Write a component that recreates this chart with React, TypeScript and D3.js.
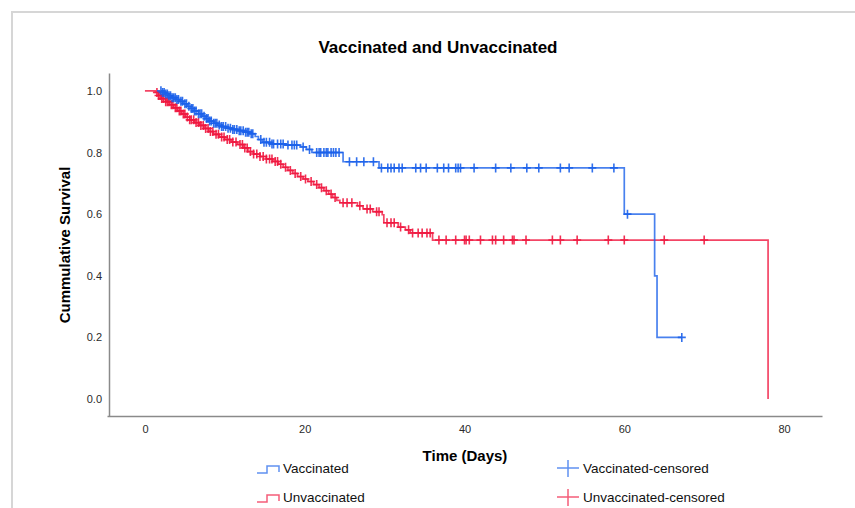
import React, { Component } from "react";
import * as d3 from "d3";

// Kaplan-Meier steps: [time in days, survival after the event]
const vaccinatedStart: [number, number] = [2.0, 1.0];
const vaccinatedEvents: [number, number][] = [
  [2.2, 0.995], [2.6, 0.99], [3.0, 0.984], [3.4, 0.978], [3.9, 0.972], [4.3, 0.966],
  [4.8, 0.958], [5.3, 0.95], [5.7, 0.943], [6.2, 0.935], [6.7, 0.926], [7.2, 0.918],
  [7.6, 0.91], [8.1, 0.902], [8.6, 0.895], [9.1, 0.889], [9.6, 0.884], [10.2, 0.879],
  [10.9, 0.875], [11.6, 0.871], [12.4, 0.866], [13.2, 0.861], [13.8, 0.852], [14.2, 0.842],
  [14.7, 0.833], [15.8, 0.828], [17.6, 0.824], [19.5, 0.818], [20.2, 0.81], [20.9, 0.8],
  [24.8, 0.77], [29.3, 0.75], [60.0, 0.6], [63.8, 0.4], [64.1, 0.2],
];
const vaccinatedEnd = 67.2;
const vaccinatedCensored = [
  2.0, 2.2, 2.4, 2.6, 2.8, 3.0, 3.2, 3.4, 3.6, 3.8, 4.0, 4.2, 4.5, 4.7, 5.0, 5.2, 5.5, 5.8,
  6.0, 6.2, 6.4, 6.7, 6.9, 7.1, 7.4, 7.7, 7.9, 8.1, 8.3, 8.6, 8.8, 9.0, 9.3, 9.6, 9.8, 10.1,
  10.4, 10.7, 11.0, 11.2, 11.5, 11.8, 12.0, 12.3, 12.6, 12.8, 13.0, 13.3, 13.5, 14.5, 14.9,
  15.2, 15.6, 15.9, 16.1, 16.6, 17.0, 17.3, 17.9, 18.4, 18.7, 19.0, 19.8, 20.6, 21.5, 21.8,
  22.0, 22.4, 22.7, 22.9, 23.3, 23.6, 23.9, 24.3, 25.6, 26.5, 27.4, 28.6,
  29.6, 30.4, 30.8, 31.2, 31.8, 32.2, 33.9, 34.5, 35.2, 36.6, 37.4, 38.0, 38.9, 39.2,
  39.5, 41.2, 43.9, 45.8, 47.8, 49.3, 52.0, 53.1, 56.0, 58.7, 60.4, 67.2,
];

const unvaccinatedStart: [number, number] = [0, 1.0];
const unvaccinatedEvents: [number, number][] = [
  [1.3, 0.995], [1.7, 0.985], [2.1, 0.975], [2.6, 0.965], [3.1, 0.955], [3.6, 0.945],
  [4.1, 0.935], [4.6, 0.925], [5.1, 0.915], [5.6, 0.906], [6.2, 0.897], [6.8, 0.888],
  [7.4, 0.878], [8.0, 0.868], [8.6, 0.859], [9.3, 0.85], [10.0, 0.842], [10.8, 0.834],
  [11.6, 0.826], [12.3, 0.815], [12.9, 0.803], [13.6, 0.795], [14.4, 0.787], [15.2, 0.779],
  [16.0, 0.771], [16.7, 0.762], [17.3, 0.752], [17.9, 0.742], [18.5, 0.732], [19.1, 0.722],
  [19.8, 0.714], [20.4, 0.706], [21.1, 0.696], [21.8, 0.686], [22.4, 0.676], [23.0, 0.665],
  [23.5, 0.654], [24.0, 0.645], [24.4, 0.637], [26.6, 0.627], [27.3, 0.617], [28.5, 0.608],
  [29.7, 0.598], [29.9, 0.572], [31.7, 0.558], [32.6, 0.549], [33.2, 0.539], [36.0, 0.516],
  [78.0, 0.0],
];
const unvaccinatedCensored = [
  1.5, 1.7, 1.9, 2.1, 2.3, 2.6, 2.8, 3.0, 3.3, 3.5, 3.8, 4.0, 4.3, 4.5, 4.8, 5.0, 5.3, 5.6,
  5.8, 6.1, 6.4, 6.7, 7.0, 7.3, 7.6, 7.9, 8.2, 8.5, 8.9, 9.2, 9.6, 9.9, 10.3, 10.6, 11.0,
  11.4, 11.9, 12.2, 12.5, 12.8, 13.2, 13.6, 14.0, 14.4, 14.8, 15.2, 15.6, 15.9, 16.3, 16.6,
  17.0, 17.6, 18.2, 18.8, 19.5, 20.1, 20.8, 21.5, 22.1, 22.7, 23.3, 23.8, 24.8, 25.3, 25.9,
  26.9, 27.8, 28.2, 29.0, 29.3, 30.3, 30.8, 31.2, 32.0, 33.0, 33.5, 34.2, 34.7, 35.3, 35.7,
  36.8, 37.7, 38.9, 40.0, 40.2, 40.6, 42.0, 43.5, 43.9, 44.9, 46.0, 46.2, 47.7, 51.0, 52.0,
  54.1, 58.0, 60.0, 65.0, 70.0,
];

const xTicks = [0, 20, 40, 60, 80];
const yTicks = [0, 0.2, 0.4, 0.6, 0.8, 1.0];

const BLUE = "#1b61ea";
const RED = "#f0173f";
const FONT = "'Liberation Sans', Arial, sans-serif";

class App extends Component {
  svgRef = React.createRef<SVGSVGElement>();

  componentDidMount() {
    this.drawChart();
  }

  drawChart() {
    const svg = d3.select(this.svgRef.current);
    svg.selectAll("*").remove();

    const width = 855;
    const height = 508;

    svg.append("rect").attr("width", width).attr("height", height).attr("fill", "#fff");

    // outer frame
    svg.append("path")
      .attr("d", `M12,${height} L12,12 L${width},12`)
      .attr("fill", "none")
      .attr("stroke", "#d6d6d6")
      .attr("stroke-width", 2);

    const x = d3.scaleLinear().domain([-4.75, 84.75]).range([107, 822]);
    const y = d3.scaleLinear().domain([-0.055, 1.058]).range([416, 73]);

    const yAxis = svg.append("g")
      .attr("transform", "translate(109,0)")
      .call(d3.axisLeft(y).tickValues(yTicks).tickSize(0).tickPadding(7).tickFormat(d3.format(".1f")));
    const xAxis = svg.append("g")
      .attr("transform", "translate(0,416)")
      .call(d3.axisBottom(x).tickValues(xTicks).tickSize(0).tickPadding(9).tickFormat(d3.format("d")));

    [xAxis, yAxis].forEach(g => {
      g.select(".domain").attr("stroke", "#8a8a8a").attr("stroke-width", 1.5);
      g.selectAll("text").attr("font-family", FONT).attr("font-size", 11).attr("fill", "#2a2a2a");
    });

    const line = d3.line<[number, number]>()
      .x(d => x(d[0]))
      .y(d => y(d[1]))
      .curve(d3.curveStepAfter);

    const series = [
      {
        color: BLUE,
        points: [vaccinatedStart, ...vaccinatedEvents, [vaccinatedEnd, vaccinatedEvents[vaccinatedEvents.length - 1][1]] as [number, number]],
        start: vaccinatedStart,
        events: vaccinatedEvents,
        censored: vaccinatedCensored,
      },
      {
        color: RED,
        points: [unvaccinatedStart, ...unvaccinatedEvents],
        start: unvaccinatedStart,
        events: unvaccinatedEvents,
        censored: unvaccinatedCensored,
      },
    ];

    const bisect = d3.bisector((d: [number, number]) => d[0]).right;

    // red first so blue sits on top
    [series[1], series[0]].forEach(s => {
      svg.append("path")
        .datum(s.points)
        .attr("d", line)
        .attr("fill", "none")
        .attr("stroke", s.color)
        .attr("stroke-opacity", 0.8)
        .attr("stroke-width", 1.7);

      const survAt = (t: number) => {
        const i = bisect(s.events, t);
        return i === 0 ? s.start[1] : s.events[i - 1][1];
      };

      const marks = svg.append("g").attr("stroke", s.color).attr("stroke-width", 1.6).attr("stroke-opacity", 0.9);
      s.censored.forEach(t => {
        const cx = x(t);
        const cy = y(survAt(t));
        marks.append("path").attr("d", `M${cx - 4},${cy} H${cx + 4} M${cx},${cy - 4.5} V${cy + 4.5}`);
      });
    });

    // titles
    svg.append("text")
      .attr("x", 438).attr("y", 53)
      .attr("text-anchor", "middle")
      .attr("font-family", FONT).attr("font-weight", "bold").attr("font-size", 17)
      .text("Vaccinated and Unvaccinated");

    svg.append("text")
      .attr("x", 465).attr("y", 461)
      .attr("text-anchor", "middle")
      .attr("font-family", FONT).attr("font-weight", "bold").attr("font-size", 15)
      .text("Time (Days)");

    svg.append("text")
      .attr("transform", "translate(70,245) rotate(-90)")
      .attr("text-anchor", "middle")
      .attr("font-family", FONT).attr("font-weight", "bold").attr("font-size", 15)
      .text("Cummulative Survival");

    // legend
    const legend = [
      { label: "Vaccinated", color: BLUE, type: "step", lx: 257, ly: 467 },
      { label: "Unvaccinated", color: RED, type: "step", lx: 257, ly: 496 },
      { label: "Vaccinated-censored", color: BLUE, type: "cross", lx: 557, ly: 467 },
      { label: "Unvaccinated-censored", color: RED, type: "cross", lx: 557, ly: 496 },
    ];
    legend.forEach(l => {
      const g = svg.append("g");
      if (l.type === "step") {
        g.append("path")
          .attr("d", `M${l.lx},${l.ly + 6} H${l.lx + 10} V${l.ly - 1} H${l.lx + 22} V${l.ly + 5}`)
          .attr("fill", "none").attr("stroke", l.color).attr("stroke-opacity", 0.7).attr("stroke-width", 1.5);
      } else {
        g.append("path")
          .attr("d", `M${l.lx},${l.ly + 1} H${l.lx + 22} M${l.lx + 11},${l.ly - 7} V${l.ly + 10}`)
          .attr("fill", "none").attr("stroke", l.color).attr("stroke-opacity", 0.7).attr("stroke-width", 1.5);
      }
      g.append("text")
        .attr("x", l.lx + 26).attr("y", l.ly + 6)
        .attr("font-family", FONT).attr("font-size", 13.5).attr("fill", "#111")
        .text(l.label);
    });
  }

  render() {
    return (
      <svg
        ref={this.svgRef}
        width={855}
        height={508}
        style={{ position: "absolute", left: 0, top: 0 }}
      />
    );
  }
}

export default App;
